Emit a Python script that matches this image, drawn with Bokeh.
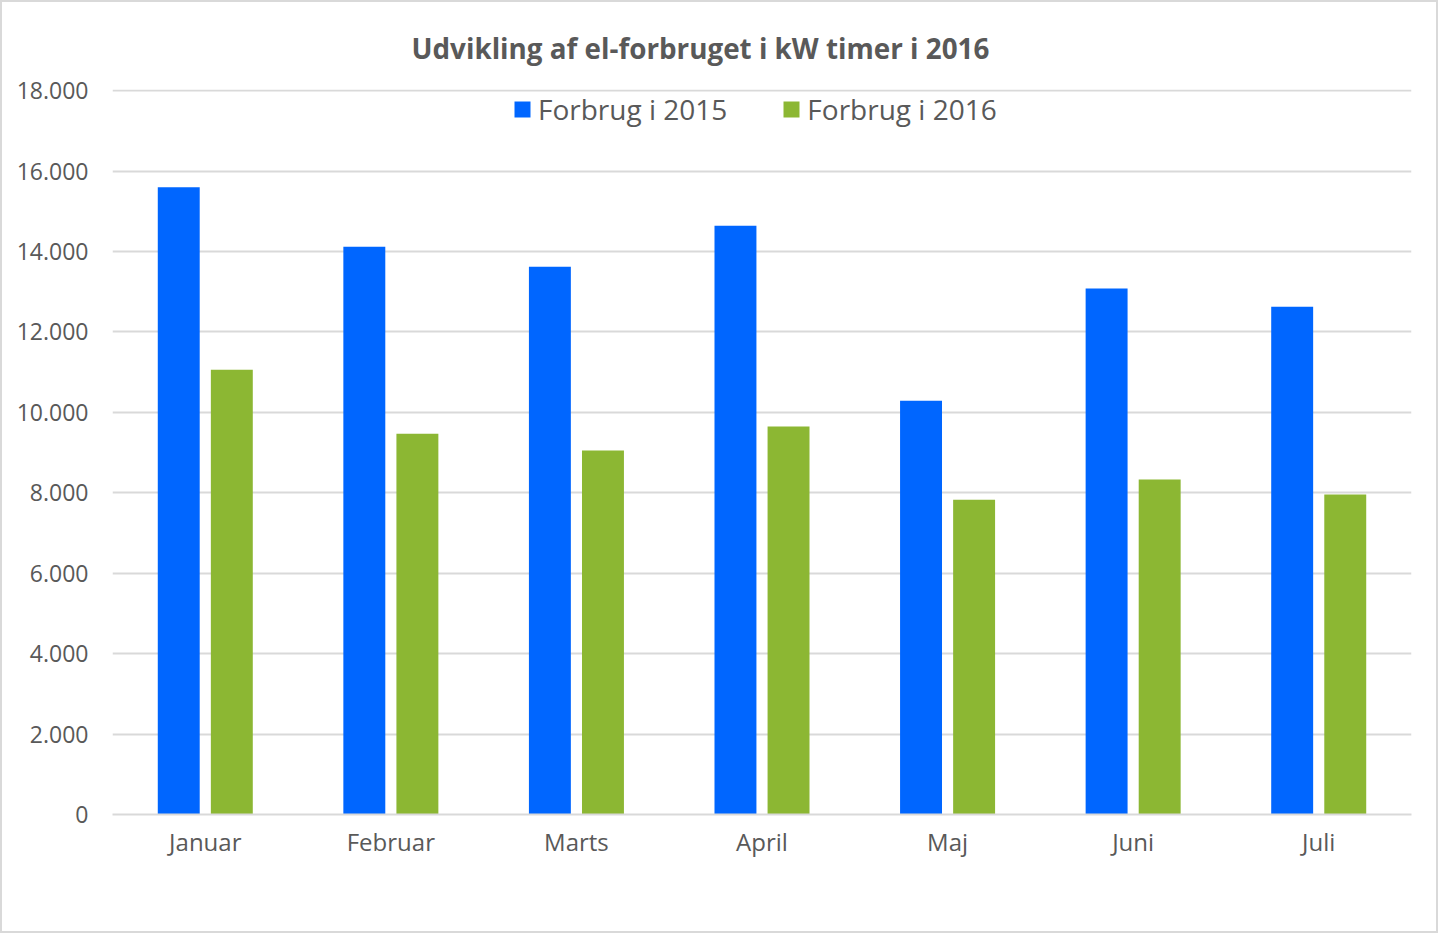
from bokeh.plotting import figure
from bokeh.models import ColumnDataSource, FixedTicker, Legend, LegendItem, Title
from bokeh.transform import dodge
from bokeh.embed import file_html
from bokeh.resources import INLINE

months = ["Januar", "Februar", "Marts", "April", "Maj", "Juni", "Juli"]
forbrug_2015 = [15600, 14120, 13620, 14640, 10290, 13080, 12630]
forbrug_2016 = [11060, 9470, 9050, 9650, 7830, 8330, 7960]
y_ticks = [0, 2000, 4000, 6000, 8000, 10000, 12000, 14000, 16000, 18000]
y_labels = ["0", "2.000", "4.000", "6.000", "8.000", "10.000", "12.000", "14.000", "16.000", "18.000"]
title_text = "Udvikling af el-forbruget i kW timer i 2016"

src = ColumnDataSource(dict(m=months, a=forbrug_2015, b=forbrug_2016))

FONT = "Open Sans"
TXT = "#595959"

p = figure(x_range=months, y_range=(0, 18030), width=1438, height=933,
           output_backend="svg", toolbar_location=None,
           min_border_left=110, min_border_right=29, min_border_top=87, min_border_bottom=121)
p.outline_line_color = None
p.border_fill_color = "white"
p.background_fill_color = "white"

r1 = p.vbar(x=dodge("m", -0.143, range=p.x_range), top="a", width=0.226, source=src,
            fill_color="#0066FF", line_color=None)
r2 = p.vbar(x=dodge("m", 0.143, range=p.x_range), top="b", width=0.226, source=src,
            fill_color="#8CB733", line_color=None)

t = Title(text=title_text, align="left", offset=299,
          text_font=FONT, text_font_size="27.8px", text_font_style="bold", text_color=TXT,
          standoff=46)
p.add_layout(t, "above")

p.yaxis.ticker = FixedTicker(ticks=y_ticks)
p.yaxis.major_label_overrides = {v: l for v, l in zip(y_ticks, y_labels)}
p.yaxis.axis_line_color = None
p.yaxis.major_tick_line_color = None
p.yaxis.minor_tick_line_color = None
p.yaxis.major_label_standoff = 18
p.yaxis.major_label_text_font = FONT
p.yaxis.major_label_text_font_size = "23px"
p.yaxis.major_label_text_color = TXT

p.xaxis.axis_line_color = "#d9d9d9"
p.xaxis.axis_line_width = 2
p.xaxis.major_tick_line_color = None
p.xaxis.minor_tick_line_color = None
p.xaxis.major_label_standoff = 4
p.xaxis.major_label_text_font = FONT
p.xaxis.major_label_text_font_size = "24px"
p.xaxis.major_label_text_color = TXT

p.xgrid.grid_line_color = None
p.ygrid.grid_line_color = "#d9d9d9"
p.ygrid.grid_line_width = 2
p.x_range.range_padding = 0

legend = Legend(items=[LegendItem(label="Forbrug i 2015", renderers=[r1]),
                       LegendItem(label="Forbrug i 2016", renderers=[r2])],
                orientation="horizontal", location=(400, 686),
                background_fill_alpha=0, border_line_color=None,
                label_text_font=FONT, label_text_font_size="28px", label_text_color=TXT,
                glyph_width=20, glyph_height=20, label_height=20, spacing=54,
                margin=0, padding=0, label_standoff=6)
p.add_layout(legend, "center")

p.styles = {"border": "2px solid #d9d9d9"}

open("out.html", "w").write(file_html(p, INLINE))
